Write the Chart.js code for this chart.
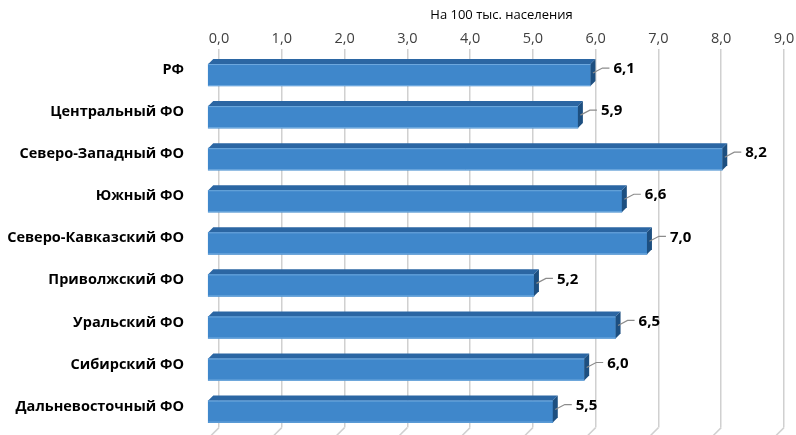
<!DOCTYPE html>
<html>
<head>
<meta charset="utf-8">
<script src="https://cdn.jsdelivr.net/npm/chart.js@4/dist/chart.umd.min.js"></script>
<style>
  html, body { margin: 0; padding: 0; background: #fff; overflow: hidden; }
  canvas { display: block; }
</style>
</head>
<body>
<canvas id="myChartRate" width="796" height="435"></canvas>
<script>
const categories = [
  "РФ",
  "Центральный ФО",
  "Северо-Западный ФО",
  "Южный ФО",
  "Северо-Кавказский ФО",
  "Приволжский ФО",
  "Уральский ФО",
  "Сибирский ФО",
  "Дальневосточный ФО",
];
const values = [6.1, 5.9, 8.2, 6.6, 7.0, 5.2, 6.5, 6.0, 5.5];
const axisMin = 0;
const axisMax = 9;
const axisTitle = "На 100 тыс. населения";

const FONT = "'Open Sans', sans-serif";
// front face sits forward of the grid wall, faces give it depth
const SHIFT_X = 11.5;
const SHIFT_Y = 5;
const DEPTH = 5;

const fmt = (v) => v.toFixed(1).replace(".", ",");

const bars3d = {
  id: "bars3d",
  beforeDatasetsDraw(chart) {
    const ctx = chart.ctx;
    // floor stubs under the grid lines
    const xs = chart.scales.x;
    const bottom = chart.chartArea.bottom;
    ctx.save();
    ctx.strokeStyle = "#d0d0d0";
    ctx.lineWidth = 1.5;
    xs.ticks.forEach((t) => {
      const px = xs.getPixelForValue(t.value);
      ctx.beginPath();
      ctx.moveTo(px, bottom);
      ctx.lineTo(px - 9, bottom + 9);
      ctx.stroke();
    });
    ctx.restore();
    ctx.save();
    ctx.translate(-SHIFT_X, SHIFT_Y);
  },
  afterDatasetsDraw(chart) {
    const ctx = chart.ctx;
    ctx.restore();
    const meta = chart.getDatasetMeta(0);
    meta.data.forEach((bar, i) => {
      const x0 = bar.base - SHIFT_X;
      const x1 = bar.x - SHIFT_X;
      const top = bar.y - bar.height / 2 + SHIFT_Y;
      const bot = bar.y + bar.height / 2 + SHIFT_Y;
      // top face
      ctx.fillStyle = "#2b66a3";
      ctx.beginPath();
      ctx.moveTo(x0, top);
      ctx.lineTo(x1, top);
      ctx.lineTo(x1 + DEPTH, top - DEPTH);
      ctx.lineTo(x0 + DEPTH, top - DEPTH);
      ctx.closePath();
      ctx.fill();
      // side face
      ctx.fillStyle = "#1d4f80";
      ctx.beginPath();
      ctx.moveTo(x1, top);
      ctx.lineTo(x1 + DEPTH, top - DEPTH);
      ctx.lineTo(x1 + DEPTH, bot - DEPTH);
      ctx.lineTo(x1, bot);
      ctx.closePath();
      ctx.fill();
      // light edges along the front face
      ctx.strokeStyle = "#6ea9de";
      ctx.lineWidth = 1;
      ctx.beginPath();
      ctx.moveTo(x0, top + 0.5);
      ctx.lineTo(x1, top + 0.5);
      ctx.moveTo(x0, bot - 0.5);
      ctx.lineTo(x1, bot - 0.5);
      ctx.stroke();

      // value label with leader line
      const cy = (top + bot) / 2;
      const ly = cy - 7;
      ctx.strokeStyle = "#8c8c8c";
      ctx.lineWidth = 1.2;
      ctx.beginPath();
      ctx.moveTo(x1 + 2.5, cy - 2);
      ctx.lineTo(x1 + 12, ly);
      ctx.lineTo(x1 + 19, ly);
      ctx.stroke();
      ctx.fillStyle = "#000";
      ctx.font = "bold 15px " + FONT;
      ctx.textAlign = "left";
      ctx.textBaseline = "middle";
      ctx.fillText(fmt(values[i]), x1 + 23, ly + 1);
    });
  },
};

const myChartRate = new Chart(document.getElementById("myChartRate"), {
  type: "bar",
  data: {
    labels: categories,
    datasets: [
      {
        data: values,
        backgroundColor: "#3f87cb",
        borderWidth: 0,
        barThickness: 22,
        clip: false,
      },
    ],
  },
  options: {
    indexAxis: "y",
    responsive: false,
    animation: false,
    layout: {
      padding: { top: 7, right: 12, bottom: 7.4, left: 0 },
    },
    plugins: {
      legend: { display: false },
      tooltip: { enabled: false },
    },
    scales: {
      x: {
        position: "top",
        min: axisMin,
        max: axisMax,
        ticks: {
          stepSize: 1,
          padding: 1,
          color: "#404040",
          font: { family: FONT, size: 14.5 },
          callback: (v) => fmt(v),
        },
        grid: {
          color: "#d0d0d0",
          lineWidth: 1.5,
          drawTicks: false,
        },
        border: { display: false },
        title: {
          display: true,
          text: axisTitle,
          color: "#000",
          font: { family: FONT, size: 13 },
          padding: { top: 0, bottom: 7 },
        },
      },
      y: {
        afterFit: (s) => {
          // tick padding only moves the labels away from the bars
          s.width = 219;
          s.paddingTop = 0;
          s.paddingBottom = 0;
        },
        ticks: {
          padding: 27,
          color: "#000",
          font: { family: FONT, size: 14.5, weight: "bold" },
        },
        grid: { display: false },
        border: { display: false },
      },
    },
  },
  plugins: [bars3d],
});
</script>
</body>
</html>
